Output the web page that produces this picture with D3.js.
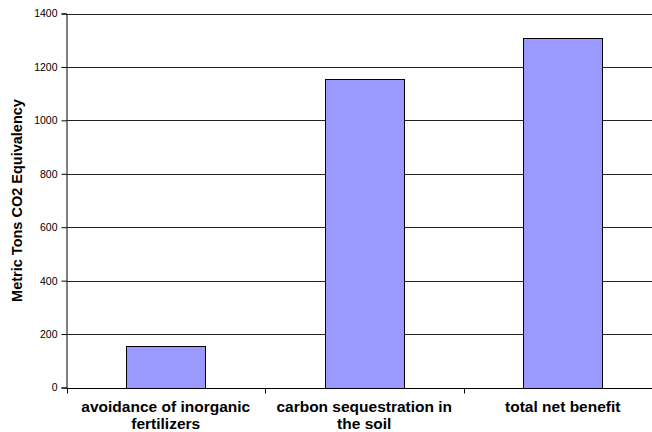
<!DOCTYPE html>
<html>
<head>
<meta charset="utf-8">
<script src="https://cdn.jsdelivr.net/npm/d3@7"></script>
<style>
  html, body { margin: 0; padding: 0; background: #fff; }
  svg { display: block; }
  text { font-family: "Liberation Sans", Arial, sans-serif; }
</style>
</head>
<body>
<svg id="chart" width="652" height="432"></svg>
<script>
// Greenhouse-gas benefit by source (metric tons CO2 equivalent)
const categories = [
  ["avoidance of inorganic", "fertilizers"],
  ["carbon sequestration in", "the soil"],
  ["total net benefit"]
];
const values = [155, 1155, 1310];
const yTicks = [0, 200, 400, 600, 800, 1000, 1200, 1400];
const yTitle = "Metric Tons CO2 Equivalency";

const svg = d3.select("#chart");
const plotLeft = 66.5, plotTop = 13.5, plotBottom = 387.5;
const step = 198.5;
const plotRight = plotLeft + step * categories.length;

const keys = categories.map(c => c.join(" "));
const x = d3.scaleBand()
  .domain(keys)
  .range([plotLeft, plotRight])
  .paddingInner(0.6)
  .paddingOuter(0.3);

const y = d3.scaleLinear().domain([0, 1400]).range([plotBottom, plotTop]);

// horizontal gridlines
svg.append("g")
  .selectAll("line")
  .data(yTicks.filter(t => t > 0))
  .join("line")
  .attr("x1", plotLeft).attr("x2", plotRight)
  .attr("y1", d => Math.round(y(d)) + 0.5)
  .attr("y2", d => Math.round(y(d)) + 0.5)
  .attr("stroke", "#222")
  .attr("stroke-width", 1);

// bars
svg.append("g")
  .selectAll("rect")
  .data(values)
  .join("rect")
  .attr("x", (d, i) => Math.round(x(keys[i])) + 0.5)
  .attr("y", d => Math.round(y(d)) + 0.5)
  .attr("width", Math.round(x.bandwidth()))
  .attr("height", d => Math.round(y(0)) - Math.round(y(d)))
  .attr("fill", "#9999ff")
  .attr("stroke", "#000")
  .attr("stroke-width", 1);

// y axis
const yAxis = d3.axisLeft(y)
  .tickValues(yTicks)
  .tickSize(5)
  .tickPadding(4)
  .tickFormat(d3.format("d"));
const gy = svg.append("g")
  .attr("transform", `translate(${plotLeft},0)`)
  .call(yAxis);
gy.select(".domain").attr("stroke", "#000");
gy.selectAll(".tick line").attr("stroke", "#000");
gy.selectAll(".tick text")
  .attr("font-size", 10.5)
  .attr("fill", "#000")
  .style("font-family", "'Liberation Sans', Arial, sans-serif");

// x axis baseline with category separators
svg.append("line")
  .attr("x1", plotLeft).attr("x2", plotRight)
  .attr("y1", Math.round(y(0)) + 0.5).attr("y2", Math.round(y(0)) + 0.5)
  .attr("stroke", "#000");
const bounds = d3.range(categories.length + 1).map(i => plotLeft + i * step);
svg.append("g")
  .selectAll("line")
  .data(bounds)
  .join("line")
  .attr("x1", d => Math.round(d) + 0.5).attr("x2", d => Math.round(d) + 0.5)
  .attr("y1", Math.round(y(0)) + 0.5).attr("y2", Math.round(y(0)) + 5.5)
  .attr("stroke", "#000");

// category labels
const lab = svg.append("g")
  .selectAll("text")
  .data(categories)
  .join("text")
  .attr("x", (d, i) => x(keys[i]) + x.bandwidth() / 2)
  .attr("y", 412)
  .attr("text-anchor", "middle")
  .attr("font-size", 15.5)
  .attr("font-weight", "bold")
  .attr("fill", "#000");
lab.selectAll("tspan")
  .data(d => d)
  .join("tspan")
  .attr("x", function() { return d3.select(this.parentNode).attr("x"); })
  .attr("dy", (d, i) => i === 0 ? 0 : 17)
  .text(d => d);

// y axis title
svg.append("text")
  .attr("transform", `translate(22,${(plotTop + plotBottom) / 2}) rotate(-90)`)
  .attr("text-anchor", "middle")
  .attr("font-size", 14.5)
  .attr("font-weight", "bold")
  .attr("fill", "#000")
  .text(yTitle);
</script>
</body>
</html>
